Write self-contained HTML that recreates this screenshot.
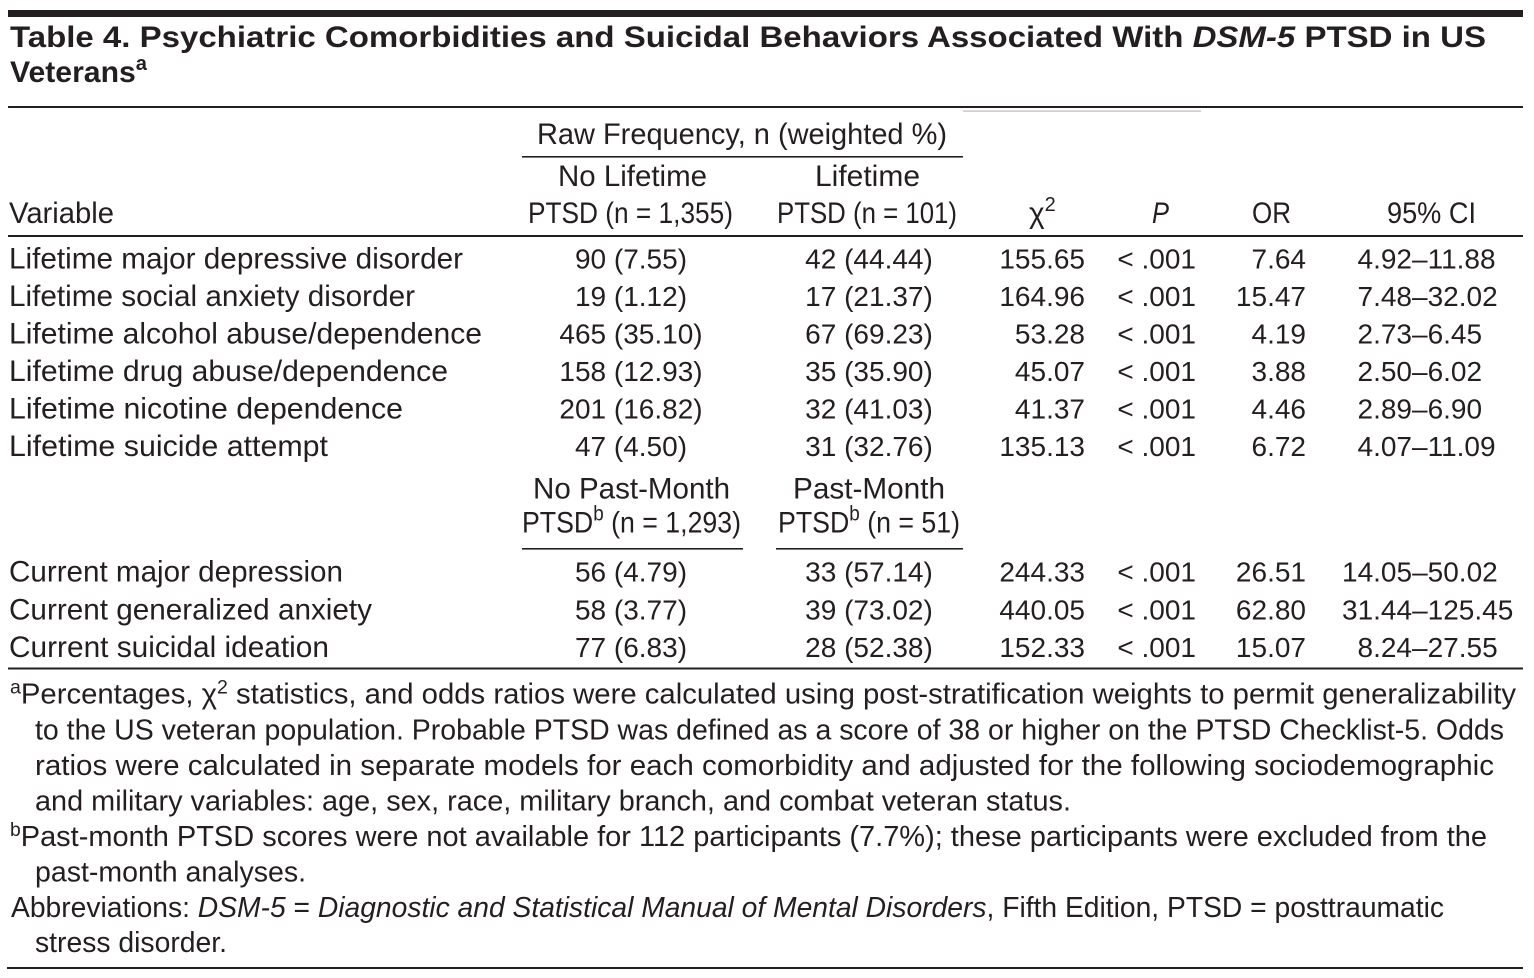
<!DOCTYPE html>
<html>
<head>
<meta charset="utf-8">
<style>
  html, body { margin: 0; padding: 0; background: #fff; }
  svg { display: block; }
</style>
</head>
<body>
<svg xmlns="http://www.w3.org/2000/svg" width="1534" height="978" viewBox="0 0 1534 978" font-family="'Liberation Sans', Arial, sans-serif" fill="#231f20">
  <rect width="1534" height="978" fill="#fff"/>

  <!-- top bar -->
  <rect x="8" y="10" width="1515" height="7" fill="#231f20"/>

  <!-- title -->
  <text x="10" y="47" font-size="30" font-weight="bold" textLength="1476" lengthAdjust="spacingAndGlyphs">Table 4. Psychiatric Comorbidities and Suicidal Behaviors Associated With <tspan font-style="italic">DSM-5</tspan> PTSD in US</text>
  <text x="10" y="82" font-size="30" font-weight="bold" textLength="137" lengthAdjust="spacingAndGlyphs">Veterans<tspan dy="-12" font-size="20">a</tspan></text>

  <!-- rules -->
  <rect x="8" y="106" width="1515" height="2"/>
  <rect x="963" y="110.5" width="238" height="1.2" fill="#b8b8b8"/>
  <rect x="522" y="156" width="441" height="1.6"/>
  <rect x="8" y="235" width="1515" height="2"/>
  <rect x="522" y="548" width="221" height="1.6"/>
  <rect x="776" y="548" width="187" height="1.6"/>
  <rect x="8" y="667.5" width="1515" height="2"/>
  <rect x="7" y="967" width="1516" height="2"/>

  <!-- header -->
  <g font-size="29.7">
    <text x="537" y="144" textLength="410" lengthAdjust="spacingAndGlyphs">Raw Frequency, n (weighted %)</text>
    <text x="558" y="186" textLength="149" lengthAdjust="spacingAndGlyphs">No Lifetime</text>
    <text x="815" y="186" textLength="105" lengthAdjust="spacingAndGlyphs">Lifetime</text>
    <text x="9" y="223" textLength="105" lengthAdjust="spacingAndGlyphs">Variable</text>
    <text x="528" y="223" textLength="205" lengthAdjust="spacingAndGlyphs">PTSD (n = 1,355)</text>
    <text x="777" y="223" textLength="180" lengthAdjust="spacingAndGlyphs">PTSD (n = 101)</text>
    <text x="1029" y="223">χ<tspan dy="-12" font-size="20">2</tspan></text>
    <text x="1152" y="223" font-style="italic" textLength="17" lengthAdjust="spacingAndGlyphs">P</text>
    <text x="1252" y="223" textLength="39" lengthAdjust="spacingAndGlyphs">OR</text>
    <text x="1387" y="223" textLength="89" lengthAdjust="spacingAndGlyphs">95% CI</text>
  </g>

  <!-- row labels block 1 -->
  <g font-size="29.7">
    <text x="9" y="268.3" textLength="454" lengthAdjust="spacingAndGlyphs">Lifetime major depressive disorder</text>
    <text x="9" y="305.8" textLength="406" lengthAdjust="spacingAndGlyphs">Lifetime social anxiety disorder</text>
    <text x="9" y="343.3" textLength="473" lengthAdjust="spacingAndGlyphs">Lifetime alcohol abuse/dependence</text>
    <text x="9" y="380.8" textLength="439" lengthAdjust="spacingAndGlyphs">Lifetime drug abuse/dependence</text>
    <text x="9" y="418.3" textLength="394" lengthAdjust="spacingAndGlyphs">Lifetime nicotine dependence</text>
    <text x="9" y="455.8" textLength="319" lengthAdjust="spacingAndGlyphs">Lifetime suicide attempt</text>
  </g>

  <!-- numbers block 1 -->
  <g font-size="28">
    <g text-anchor="middle">
      <text x="631" y="268.3">90 (7.55)</text>
      <text x="631" y="305.8">19 (1.12)</text>
      <text x="631" y="343.3">465 (35.10)</text>
      <text x="631" y="380.8">158 (12.93)</text>
      <text x="631" y="418.3">201 (16.82)</text>
      <text x="631" y="455.8">47 (4.50)</text>

      <text x="869" y="268.3">42 (44.44)</text>
      <text x="869" y="305.8">17 (21.37)</text>
      <text x="869" y="343.3">67 (69.23)</text>
      <text x="869" y="380.8">35 (35.90)</text>
      <text x="869" y="418.3">32 (41.03)</text>
      <text x="869" y="455.8">31 (32.76)</text>
    </g>
    <g text-anchor="end">
      <text x="1085" y="268.3">155.65</text>
      <text x="1085" y="305.8">164.96</text>
      <text x="1085" y="343.3">53.28</text>
      <text x="1085" y="380.8">45.07</text>
      <text x="1085" y="418.3">41.37</text>
      <text x="1085" y="455.8">135.13</text>

      <text x="1196" y="268.3">&lt; .001</text>
      <text x="1196" y="305.8">&lt; .001</text>
      <text x="1196" y="343.3">&lt; .001</text>
      <text x="1196" y="380.8">&lt; .001</text>
      <text x="1196" y="418.3">&lt; .001</text>
      <text x="1196" y="455.8">&lt; .001</text>

      <text x="1306" y="268.3">7.64</text>
      <text x="1306" y="305.8">15.47</text>
      <text x="1306" y="343.3">4.19</text>
      <text x="1306" y="380.8">3.88</text>
      <text x="1306" y="418.3">4.46</text>
      <text x="1306" y="455.8">6.72</text>
    </g>
    <text x="1357.5" y="268.3">4.92–11.88</text>
    <text x="1357.5" y="305.8">7.48–32.02</text>
    <text x="1357.5" y="343.3">2.73–6.45</text>
    <text x="1357.5" y="380.8">2.50–6.02</text>
    <text x="1357.5" y="418.3">2.89–6.90</text>
    <text x="1357.5" y="455.8">4.07–11.09</text>
  </g>

  <!-- sub-header block 2 -->
  <g font-size="29.7">
    <text x="533" y="498.3" textLength="197" lengthAdjust="spacingAndGlyphs">No Past-Month</text>
    <text x="793" y="498.3" textLength="152" lengthAdjust="spacingAndGlyphs">Past-Month</text>
    <text x="522" y="532.5" textLength="219" lengthAdjust="spacingAndGlyphs">PTSD<tspan dy="-12" font-size="21">b</tspan><tspan dy="12"> (n = 1,293)</tspan></text>
    <text x="778" y="532.5" textLength="182" lengthAdjust="spacingAndGlyphs">PTSD<tspan dy="-12" font-size="21">b</tspan><tspan dy="12"> (n = 51)</tspan></text>
  </g>

  <!-- row labels block 2 -->
  <g font-size="29.7">
    <text x="9" y="581.7" textLength="334" lengthAdjust="spacingAndGlyphs">Current major depression</text>
    <text x="9" y="619.3" textLength="363" lengthAdjust="spacingAndGlyphs">Current generalized anxiety</text>
    <text x="9" y="656.8" textLength="320" lengthAdjust="spacingAndGlyphs">Current suicidal ideation</text>
  </g>

  <!-- numbers block 2 -->
  <g font-size="28">
    <g text-anchor="middle">
      <text x="631" y="581.7">56 (4.79)</text>
      <text x="631" y="619.3">58 (3.77)</text>
      <text x="631" y="656.8">77 (6.83)</text>
      <text x="869" y="581.7">33 (57.14)</text>
      <text x="869" y="619.3">39 (73.02)</text>
      <text x="869" y="656.8">28 (52.38)</text>
    </g>
    <g text-anchor="end">
      <text x="1085" y="581.7">244.33</text>
      <text x="1085" y="619.3">440.05</text>
      <text x="1085" y="656.8">152.33</text>
      <text x="1196" y="581.7">&lt; .001</text>
      <text x="1196" y="619.3">&lt; .001</text>
      <text x="1196" y="656.8">&lt; .001</text>
      <text x="1306" y="581.7">26.51</text>
      <text x="1306" y="619.3">62.80</text>
      <text x="1306" y="656.8">15.07</text>
    </g>
    <text x="1342" y="581.7">14.05–50.02</text>
    <text x="1342" y="619.3">31.44–125.45</text>
    <text x="1357.5" y="656.8">8.24–27.55</text>
  </g>

  <!-- footnotes -->
  <g font-size="28.5">
    <text x="10" y="703.5" textLength="1506" lengthAdjust="spacingAndGlyphs"><tspan dy="-10" font-size="19">a</tspan><tspan dy="10">Percentages, χ</tspan><tspan dy="-10" font-size="19">2</tspan><tspan dy="10"> statistics, and odds ratios were calculated using post-stratification weights to permit generalizability</tspan></text>
    <text x="35" y="739.5" textLength="1469" lengthAdjust="spacingAndGlyphs">to the US veteran population. Probable PTSD was defined as a score of 38 or higher on the PTSD Checklist-5. Odds</text>
    <text x="35" y="775" textLength="1459" lengthAdjust="spacingAndGlyphs">ratios were calculated in separate models for each comorbidity and adjusted for the following sociodemographic</text>
    <text x="35" y="810.5" textLength="1036" lengthAdjust="spacingAndGlyphs">and military variables: age, sex, race, military branch, and combat veteran status.</text>
    <text x="10" y="846" textLength="1477" lengthAdjust="spacingAndGlyphs"><tspan dy="-10" font-size="19">b</tspan><tspan dy="10">Past-month PTSD scores were not available for 112 participants (7.7%); these participants were excluded from the</tspan></text>
    <text x="35" y="881.5" textLength="271" lengthAdjust="spacingAndGlyphs">past-month analyses.</text>
    <text x="11" y="917" textLength="1433" lengthAdjust="spacingAndGlyphs">Abbreviations: <tspan font-style="italic">DSM-5</tspan> = <tspan font-style="italic">Diagnostic and Statistical Manual of Mental Disorders</tspan>, Fifth Edition, PTSD = posttraumatic</text>
    <text x="35" y="952" textLength="192" lengthAdjust="spacingAndGlyphs">stress disorder.</text>
  </g>
</svg>
</body>
</html>
